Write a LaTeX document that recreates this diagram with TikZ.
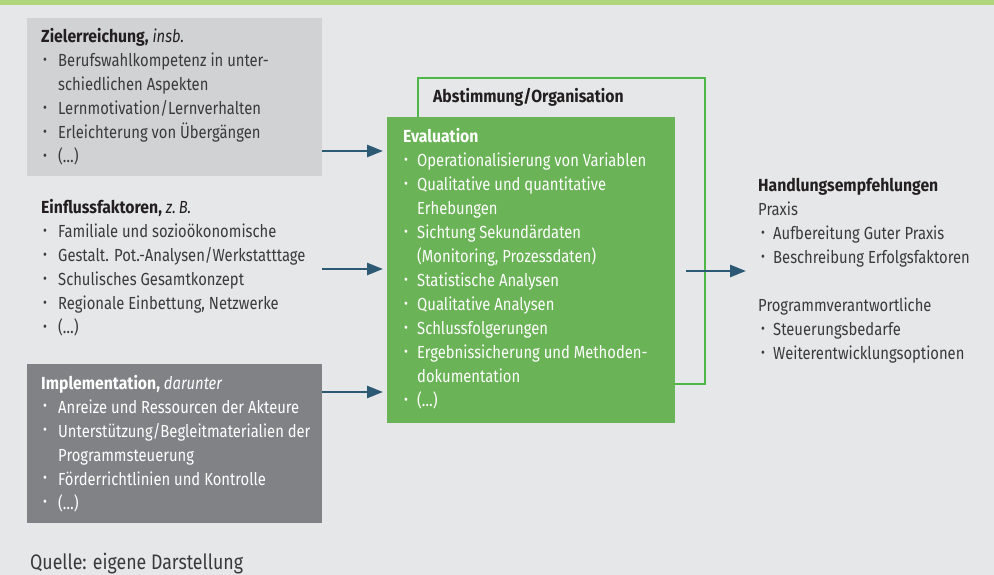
\documentclass[tikz,border=0pt]{standalone}
\usepackage{fontspec}
\setmainfont{Fira Sans}[FakeStretch=0.845, BoldFeatures={FakeStretch=0.9}, BoldItalicFeatures={FakeStretch=0.9}]
\usetikzlibrary{arrows.meta}
\definecolor{bgc}{HTML}{E6E7E8}
\definecolor{topbar}{HTML}{B0D57A}
\definecolor{boxlight}{HTML}{D1D2D4}
\definecolor{boxdark}{HTML}{808285}
\definecolor{evalg}{HTML}{6AB356}
\definecolor{outl}{HTML}{4DB748}
\definecolor{arrc}{HTML}{2C5A75}
\definecolor{txtc}{HTML}{3A3A3C}
\definecolor{ttlc}{HTML}{231F20}
\newcommand\bl{\makebox[17pt][l]{\hspace{2pt}\raisebox{0.25ex}{\scalebox{0.8}{•}}}}
\newcommand\ind{\hspace*{17pt}}
\newcommand\blr{\makebox[15pt][l]{\hspace{3pt}\raisebox{0.25ex}{\scalebox{0.8}{•}}}}
\newcommand\indr{\hspace*{15pt}}
\newcommand\ble{\makebox[14pt][l]{\hspace{1pt}\raisebox{0.25ex}{\scalebox{0.8}{•}}}}
\newcommand\inde{\hspace*{14pt}}
\begin{document}
\begin{tikzpicture}[x=1pt,y=-1pt,
  txt/.style={anchor=base west, inner sep=0pt, font=\fontsize{17.5}{24}\selectfont},
  panel/.style={anchor=north west, inner sep=0pt, outer sep=0pt},
  arr/.style={draw=arrc, line width=2.6pt, -{Triangle[length=16pt,width=12pt]}}]
\useasboundingbox (0,0) rectangle (994,575);
\fill[bgc] (0,0) rectangle (994,575);
\fill[topbar] (0,0) rectangle (994,5);
% left panels
\node[panel, fill=boxlight, minimum width=295pt, minimum height=158pt] (ziel) at (27,18) {};
\node[panel, minimum width=295pt, minimum height=155pt] (einf) at (27,190) {};
\node[panel, fill=boxdark, minimum width=295pt, minimum height=159pt] (impl) at (27,364) {};
% abstimmung outline and evaluation
\node[panel, draw=outl, line width=2.4pt, minimum width=287pt, minimum height=306pt] (abst) at (418,78) {};
\node[txt, text=ttlc] (abstt) at (433,103) {\textbf{Abstimmung/Organisation}};
\node[panel, fill=evalg, minimum width=288pt, minimum height=306pt] (eval) at (387,117) {};
% texts
\node[txt, text=txtc] (zielt) at (41,43) {\begin{tabular}[t]{@{}l@{}}
\textcolor{ttlc}{\textbf{Zielerreichung,} \textit{insb.}}\\
\bl Berufswahlkompetenz in unter-\\
\ind schiedlichen Aspekten\\
\bl Lernmotivation/Lernverhalten\\
\bl Erleichterung von Übergängen\\
\bl (\dots)\end{tabular}};
\node[txt, text=txtc] (einft) at (41,214) {\begin{tabular}[t]{@{}l@{}}
\textcolor{ttlc}{\textbf{Einflussfaktoren,} \textit{z.\,B.}}\\
\bl Familiale und sozioökonomische\\
\bl Gestalt. Pot.-Analysen/Werkstatttage\\
\bl Schulisches Gesamtkonzept\\
\bl Regionale Einbettung, Netzwerke\\
\bl (\dots)\end{tabular}};
\node[txt, text=white] (implt) at (41,389) {\begin{tabular}[t]{@{}l@{}}
\textbf{Implementation,} \textit{darunter}\\
\bl Anreize und Ressourcen der Akteure\\
\bl Unterstützung/Begleitmaterialien der\\
\ind Programmsteuerung\\
\bl Förderrichtlinien und Kontrolle\\
\bl (\dots)\end{tabular}};
\node[txt, text=white] (evalt) at (403,143) {\begin{tabular}[t]{@{}l@{}}
\textbf{Evaluation}\\
\ble Operationalisierung von Variablen\\
\ble Qualitative und quantitative\\
\inde Erhebungen\\
\ble Sichtung Sekundärdaten\\
\inde (Monitoring, Prozessdaten)\\
\ble Statistische Analysen\\
\ble Qualitative Analysen\\
\ble Schlussfolgerungen\\
\ble Ergebnissicherung und Methoden-\\
\inde dokumentation\\
\ble (\dots)\end{tabular}};
\node[txt, text=txtc] (hand) at (758,192) {\begin{tabular}[t]{@{}l@{}}
\textcolor{ttlc}{\textbf{Handlungsempfehlungen}}\\
Praxis\\
\blr Aufbereitung Guter Praxis\\
\blr Beschreibung Erfolgsfaktoren\\
\\
Programmverantwortliche\\
\blr Steuerungsbedarfe\\
\blr Weiterentwicklungsoptionen\end{tabular}};
\node[txt, text=txtc, font=\fontsize{21}{24}\selectfont] (quelle) at (30,569) {Quelle: eigene Darstellung};
% arrows
\draw[arr, shorten >=4pt] (ziel.east |- 0,151) -- (eval.west |- 0,151);
\draw[arr, shorten >=4pt] (einf.east |- 0,269) -- (eval.west |- 0,269);
\draw[arr, shorten >=4pt] (impl.east |- 0,392) -- (eval.west |- 0,392);
\draw[arr, shorten <=11pt, shorten >=12pt] (eval.east |- 0,271) -- (hand.west |- 0,271);
\end{tikzpicture}
\end{document}
